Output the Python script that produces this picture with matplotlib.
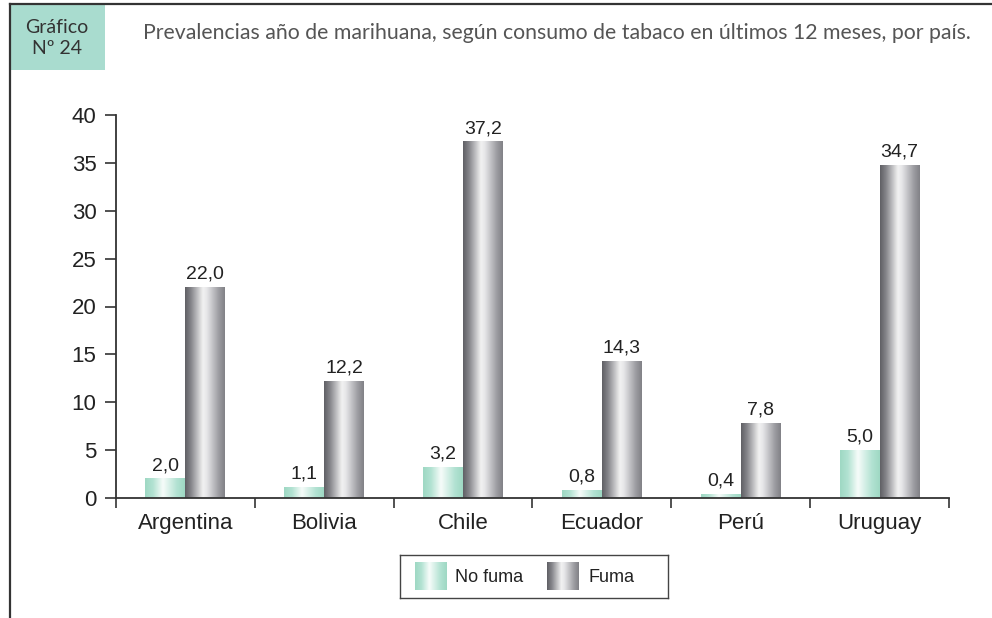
import numpy as np
import matplotlib.pyplot as plt
from matplotlib.colors import LinearSegmentedColormap
from matplotlib.patches import Rectangle

paises = ["Argentina", "Bolivia", "Chile", "Ecuador", "Perú", "Uruguay"]
no_fuma = [2.0, 1.1, 3.2, 0.8, 0.4, 5.0]
fuma = [22.0, 12.2, 37.2, 14.3, 7.8, 34.7]
yticks = [0, 5, 10, 15, 20, 25, 30, 35, 40]

titulo = "Prevalencias año de marihuana, según consumo de tabaco en últimos 12 meses, por país."

cmap_verde = LinearSegmentedColormap.from_list(
    "verde", [(0, "#9ed8c3"), (0.2, "#b2e2d2"), (0.45, "#f7fcfa"),
              (0.8, "#b2e2d2"), (1, "#9ed8c3")])
cmap_gris = LinearSegmentedColormap.from_list(
    "gris", [(0, "#5f5f64"), (0.15, "#85858a"), (0.45, "#f2f2f2"),
             (0.55, "#e6e6e8"), (0.85, "#9c9ca1"), (1, "#818186")])
grad = np.linspace(0, 1, 256).reshape(1, -1)

fig = plt.figure(figsize=(9.92, 6.18), dpi=100)
W, H = 992, 618

# marco exterior
fig.add_artist(plt.Line2D([10 / W, 10 / W], [0, 1 - 4 / H], transform=fig.transFigure,
                          color="#333333", lw=1.6))
fig.add_artist(plt.Line2D([10 / W, 1], [1 - 4 / H, 1 - 4 / H], transform=fig.transFigure,
                          color="#333333", lw=1.6))
fig.add_artist(Rectangle((11 / W, 1 - 70 / H), 94 / W, 65 / H, transform=fig.transFigure,
                         facecolor="#a9dccf", edgecolor="none"))
fig.text(57 / W, 1 - 38 / H, "Gráfico\nNº 24", ha="center", va="center",
         fontsize=14, color="#333333", family="Lato", linespacing=1.3)
fig.text(143 / W, 1 - 33 / H, titulo, ha="left", va="center", fontsize=15.3,
         color="#555555", family="Lato")

ax = fig.add_axes([116 / W, 120 / H, (949 - 116) / W, (498 - 115) / H])
x = np.arange(len(paises))
w = 0.288
b1 = ax.bar(x - w / 2, no_fuma, w, color="none", edgecolor="none")
b2 = ax.bar(x + w / 2, fuma, w, color="none", edgecolor="none")

ax.set_xlim(-0.5, len(paises) - 0.5)
ax.set_ylim(0, 40)

for bars, cmap in [(b1, cmap_verde), (b2, cmap_gris)]:
    for p in bars:
        x0, y0 = p.get_x(), p.get_y()
        ax.imshow(grad, cmap=cmap, aspect="auto", interpolation="bicubic",
                  extent=(x0, x0 + p.get_width(), y0, y0 + p.get_height()), zorder=2)

for i in range(len(paises)):
    ax.text(x[i] - w / 2, no_fuma[i] + 0.5, f"{no_fuma[i]:.1f}".replace(".", ","),
            ha="center", va="bottom", fontsize=14, color="#222222", family="Liberation Sans")
    ax.text(x[i] + w / 2, fuma[i] + 0.5, f"{fuma[i]:.1f}".replace(".", ","),
            ha="center", va="bottom", fontsize=14, color="#222222", family="Liberation Sans")

ax.set_xticks(x)
ax.set_xticklabels(paises, fontsize=16, family="Liberation Sans", color="#222222")
ax.set_xticks(np.arange(-0.5, len(paises)), minor=True)
ax.tick_params(axis="x", which="major", length=0, pad=11)
ax.tick_params(axis="x", which="minor", length=7, width=1.2, color="#333333")
ax.set_yticks(yticks)
ax.set_yticklabels([str(v) for v in yticks], fontsize=16, family="Liberation Sans",
                   color="#222222")
ax.tick_params(axis="y", length=8, width=1.2, color="#333333", pad=6)
for s in ["top", "right"]:
    ax.spines[s].set_visible(False)
for s in ["left", "bottom"]:
    ax.spines[s].set_color("#333333")
    ax.spines[s].set_linewidth(1.3)
ax.set_xlim(-0.5, len(paises) - 0.5)
ax.set_ylim(0, 40)

# leyenda
lg = fig.add_axes([400 / W, 20 / H, 268 / W, 43 / H])
lg.set_xticks([])
lg.set_yticks([])
for s in lg.spines.values():
    s.set_color("#444444")
    s.set_linewidth(1.0)
lg.imshow(grad, cmap=cmap_verde, aspect="auto", extent=(415, 447, 590, 562))
lg.imshow(grad, cmap=cmap_gris, aspect="auto", extent=(547, 579, 590, 562))
lg.text(455, 577, "No fuma", ha="left", va="center", fontsize=13,
        family="Liberation Sans", color="#222222")
lg.text(588, 577, "Fuma", ha="left", va="center", fontsize=13,
        family="Liberation Sans", color="#222222")
lg.set_xlim(400, 668)
lg.set_ylim(598, 555)

fig.savefig("out.png", dpi=100)
